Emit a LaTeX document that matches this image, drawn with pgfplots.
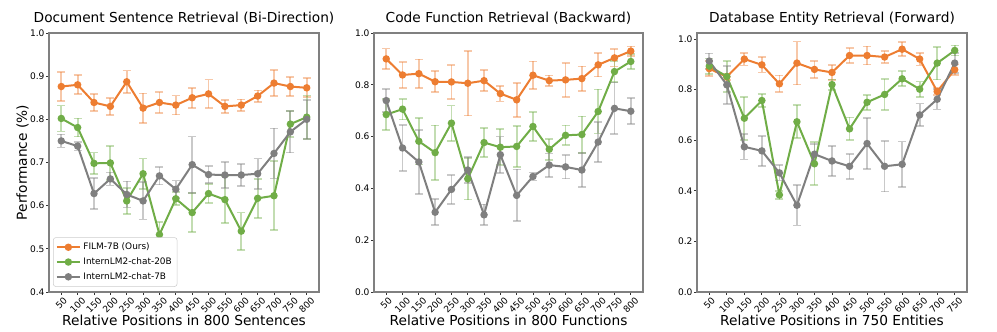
\documentclass[border=0pt]{standalone}
\usepackage{fontspec}
\setmainfont{DejaVu Sans}
\usepackage{pgfplots}
\pgfplotsset{compat=1.18}
\definecolor{cfilm}{HTML}{ED7D31}
\definecolor{cbig}{HTML}{70AD47}
\definecolor{csmall}{HTML}{7F7F7F}
\definecolor{cframe}{HTML}{808080}

\pgfplotsset{
  panel/.style={
    scale only axis, height=194.25pt,
    axis line style={cframe, line width=0.8pt},
    tick align=outside, major tick length=2.2pt,
    every tick/.style={black!80, line width=0.6pt},
    xtick pos=bottom, ytick pos=left,
    /pgf/number format/assume math mode=true,
    tick label style={font=\fontsize{6.8}{8}\selectfont},
    title style={font=\fontsize{10.3}{12}\selectfont, at={(0.5,1)}, anchor=base, yshift=2pt},
    label style={font=\fontsize{10.3}{12}\selectfont},
    xlabel style={at={(axis description cs:0.5,0)}, anchor=base, yshift=-25.5pt},
    xticklabel style={anchor=north, inner sep=1pt},
    xticklabel={\rotatebox{45}{\pgfmathprintnumber{\tick}}},
    yticklabel style={inner sep=1pt, /pgf/number format/.cd, fixed, fixed zerofill, precision=1},
    enlargelimits=false,
  },
  ebar/.style={error bars/.cd, y dir=both, y explicit,
    error bar style={#1, opacity=0.42, line width=1.3pt},
    error mark options={rotate=90, #1, opacity=0.42, mark size=3pt, line width=1.3pt}},
  film/.style={cfilm, line width=1.5pt, mark=*, mark size=2pt, mark options={solid}, ebar=cfilm},
  big/.style={cbig, line width=1.5pt, mark=*, mark size=2pt, mark options={solid}, ebar=cbig},
  small/.style={csmall, line width=1.5pt, mark=*, mark size=2pt, mark options={solid}, ebar=csmall},
}

\begin{document}
\begin{tikzpicture}
\useasboundingbox (0,0) rectangle (747.75pt,249pt);

% ---- panel 1
\begin{axis}[panel, at={(36.75pt,30pt)}, width=202.5pt,
    xmin=12.5, xmax=837.5, xtick={50,100,...,800},
    ymin=0.4, ymax=1.0, ytick={0.4,0.5,...,1.0},
    title={Document Sentence Retrieval (Bi-Direction)},
    xlabel={Relative Positions in 800 Sentences},
    ylabel={Performance (\%)},
    ylabel style={at={(axis description cs:-0.0815,0.5)}, anchor=base},
    legend cell align=left,
    legend style={at={(0.015,0.02)}, anchor=south west, draw=black!20, rounded corners=2pt,
      font=\fontsize{6.7}{8}\selectfont, fill=white, inner sep=2pt, row sep=0.5pt},
]
\addplot[film] coordinates {
  (50,0.876)+-(0,0.034) (100,0.880)+-(0,0.022) (150,0.839)+-(0,0.019) (200,0.830)+-(0,0.020)
  (250,0.887)+-(0,0.026) (300,0.826)+-(0,0.034) (350,0.839)+-(0,0.024) (400,0.833)+-(0,0.022)
  (450,0.850)+-(0,0.023) (500,0.859)+-(0,0.033) (550,0.830)+-(0,0.015) (600,0.833)+-(0,0.013)
  (650,0.854)+-(0,0.013) (700,0.884)+-(0,0.030) (750,0.876)+-(0,0.022) (800,0.873)+-(0,0.022)
};
\addlegendentry{FILM-7B (Ours)}
\addplot[big] coordinates {
  (50,0.802)+-(0,0.030) (100,0.781)+-(0,0.021) (150,0.698)+-(0,0.025) (200,0.699)+-(0,0.040)
  (250,0.611)+-(0,0.030) (300,0.674)+-(0,0.035) (350,0.533)+-(0,0.030) (400,0.616)+-(0,0.015)
  (450,0.584)+-(0,0.045) (500,0.628)+-(0,0.022) (550,0.614)+-(0,0.055) (600,0.541)+-(0,0.043)
  (650,0.617)+-(0,0.045) (700,0.623)+-(0,0.080) (750,0.789)+-(0,0.030) (800,0.805)+-(0,0.050)
};
\addlegendentry{InternLM2-chat-20B}
\addplot[small] coordinates {
  (50,0.750)+-(0,0.015) (100,0.738)+-(0,0.010) (150,0.628)+-(0,0.036) (200,0.662)+-(0,0.015)
  (250,0.626)+-(0,0.030) (300,0.611)+-(0,0.043) (350,0.669)+-(0,0.020) (400,0.638)+-(0,0.020)
  (450,0.695)+-(0,0.065) (500,0.672)+-(0,0.020) (550,0.671)+-(0,0.030) (600,0.671)+-(0,0.025)
  (650,0.674)+-(0,0.035) (700,0.721)+-(0,0.058) (750,0.771)+-(0,0.048) (800,0.800)+-(0,0.045)
};
\addlegendentry{InternLM2-chat-7B}
\end{axis}

% ---- panel 2
\begin{axis}[panel, at={(280.5pt,30pt)}, width=201.75pt,
    xmin=12.5, xmax=837.5, xtick={50,100,...,800},
    ymin=0, ymax=1.0, ytick={0,0.2,...,1.0},
    title={Code Function Retrieval (Backward)},
    xlabel={Relative Positions in 800 Functions},
]
\addplot[film] coordinates {
  (50,0.900)+-(0,0.040) (100,0.838)+-(0,0.050) (150,0.843)+-(0,0.055) (200,0.812)+-(0,0.040)
  (250,0.811)+-(0,0.065) (300,0.806)+-(0,0.125) (350,0.816)+-(0,0.040) (400,0.766)+-(0,0.030)
  (450,0.742)+-(0,0.065) (500,0.837)+-(0,0.053) (550,0.816)+-(0,0.020) (600,0.819)+-(0,0.065)
  (650,0.824)+-(0,0.047) (700,0.877)+-(0,0.045) (750,0.904)+-(0,0.033) (800,0.930)+-(0,0.018)
};
\addplot[big] coordinates {
  (50,0.685)+-(0,0.060) (100,0.706)+-(0,0.040) (150,0.582)+-(0,0.090) (200,0.538)+-(0,0.105)
  (250,0.652)+-(0,0.068) (300,0.437)+-(0,0.080) (350,0.577)+-(0,0.055) (400,0.559)+-(0,0.070)
  (450,0.562)+-(0,0.080) (500,0.639)+-(0,0.055) (550,0.551)+-(0,0.040) (600,0.605)+-(0,0.038)
  (650,0.608)+-(0,0.070) (700,0.697)+-(0,0.085) (750,0.851)+-(0,0.040) (800,0.890)+-(0,0.030)
};
\addplot[small] coordinates {
  (50,0.739)+-(0,0.045) (100,0.556)+-(0,0.090) (150,0.502)+-(0,0.124) (200,0.308)+-(0,0.050)
  (250,0.396)+-(0,0.057) (300,0.471)+-(0,0.050) (350,0.298)+-(0,0.040) (400,0.530)+-(0,0.070)
  (450,0.373)+-(0,0.100) (500,0.446)+-(0,0.015) (550,0.490)+-(0,0.045) (600,0.483)+-(0,0.045)
  (650,0.471)+-(0,0.065) (700,0.579)+-(0,0.078) (750,0.709)+-(0,0.100) (800,0.698)+-(0,0.050)
};
\end{axis}

% ---- panel 3
\begin{axis}[panel, at={(522.75pt,30pt)}, width=202.5pt,
    xmin=15, xmax=785, xtick={50,100,...,750},
    ymin=0, ymax=1.024, ytick={0,0.2,...,1.0},
    title={Database Entity Retrieval (Forward)},
    xlabel={Relative Positions in 750 Entities},
]
\addplot[film] coordinates {
  (50,0.883)+-(0,0.030) (100,0.851)+-(0,0.012) (150,0.921)+-(0,0.025) (200,0.898)+-(0,0.030)
  (250,0.823)+-(0,0.033) (300,0.905)+-(0,0.085) (350,0.880)+-(0,0.033) (400,0.868)+-(0,0.030)
  (450,0.935)+-(0,0.030) (500,0.935)+-(0,0.036) (550,0.929)+-(0,0.024) (600,0.960)+-(0,0.028)
  (650,0.921)+-(0,0.025) (700,0.793)+-(0,0.015) (750,0.879)+-(0,0.020)
};
\addplot[big] coordinates {
  (50,0.893)+-(0,0.030) (100,0.852)+-(0,0.060) (150,0.687)+-(0,0.085) (200,0.757)+-(0,0.025)
  (250,0.384)+-(0,0.015) (300,0.673)+-(0,0.065) (350,0.507)+-(0,0.085) (400,0.820)+-(0,0.020)
  (450,0.645)+-(0,0.045) (500,0.750)+-(0,0.030) (550,0.781)+-(0,0.060) (600,0.843)+-(0,0.030)
  (650,0.802)+-(0,0.030) (700,0.905)+-(0,0.065) (750,0.955)+-(0,0.020)
};
\addplot[small] coordinates {
  (50,0.913)+-(0,0.030) (100,0.819)+-(0,0.075) (150,0.574)+-(0,0.050) (200,0.558)+-(0,0.060)
  (250,0.471)+-(0,0.030) (300,0.343)+-(0,0.080) (350,0.545)+-(0,0.040) (400,0.518)+-(0,0.060)
  (450,0.497)+-(0,0.050) (500,0.587)+-(0,0.100) (550,0.497)+-(0,0.100) (600,0.505)+-(0,0.090)
  (650,0.700)+-(0,0.045) (700,0.762)+-(0,0.040) (750,0.905)+-(0,0.040)
};
\end{axis}
\end{tikzpicture}
\end{document}
